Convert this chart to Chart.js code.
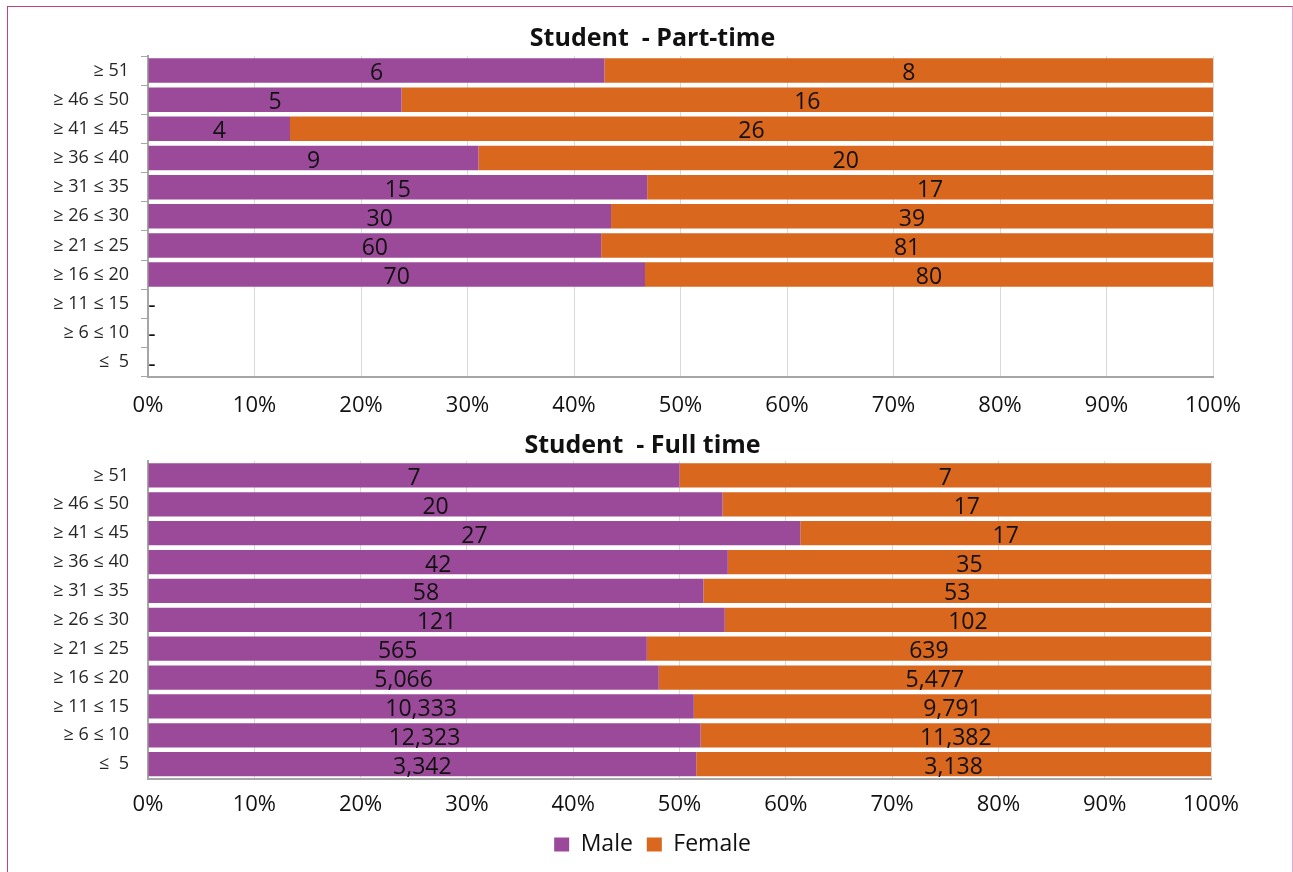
<!DOCTYPE html>
<html>
<head>
<meta charset="utf-8">
<script src="https://cdn.jsdelivr.net/npm/chart.js@4.4.0/dist/chart.umd.min.js"></script>
<style>
    body { margin: 0; background: #ffffff; font-family: "Open Sans", sans-serif; }
    #frame { position: absolute; left: 7px; top: 6px; width: 1284px; height: 880px;
             border-top: 1.5px solid #c2417f; border-left: 1.5px solid #c2417f; border-right: 1.5px solid #e3a6cc; }
    .box { position: absolute; left: 8px; width: 1283px; }
    #box1 { top: 15px; height: 430px; }
    #box2 { top: 425px; height: 444px; }
</style>
</head>
<body>
<div id="frame"></div>
<div class="box" id="box1"><canvas id="partTime"></canvas></div>
<div class="box" id="box2"><canvas id="fullTime"></canvas></div>
<script>
// Age bands, top to bottom
const ageBands = ['≥ 51', '≥ 46 ≤ 50', '≥ 41 ≤ 45', '≥ 36 ≤ 40', '≥ 31 ≤ 35', '≥ 26 ≤ 30',
                  '≥ 21 ≤ 25', '≥ 16 ≤ 20', '≥ 11 ≤ 15', '≥ 6 ≤ 10', '≤  5'];

// Student - Part-time counts
const partTimeMale   = [6, 5, 4, 9, 15, 30, 60, 70, 0, 0, 0];
const partTimeFemale = [8, 16, 26, 20, 17, 39, 81, 80, 0, 0, 0];

// Student - Full time counts
const fullTimeMale   = [7, 20, 27, 42, 58, 121, 565, 5066, 10333, 12323, 3342];
const fullTimeFemale = [7, 17, 17, 35, 53, 102, 639, 5477, 9791, 11382, 3138];

const xTicks = [0, 10, 20, 30, 40, 50, 60, 70, 80, 90, 100];

const MALE_COLOR = '#9b4a9a';
const FEMALE_COLOR = '#d9671e';
const FONT = '"Open Sans", sans-serif';

// share of row total (100% stacked)
function toPercent(part, other) {
    return part.map((v, i) => {
        const total = v + other[i];
        return total === 0 ? 0 : v / total * 100;
    });
}

// draws the raw counts inside each segment
const countLabels = {
    id: 'countLabels',
    afterDatasetsDraw(chart) {
        const ctx = chart.ctx;
        ctx.save();
        ctx.font = '23px ' + FONT;
        ctx.fillStyle = '#111111';
        ctx.textAlign = 'center';
        ctx.textBaseline = 'middle';
        chart.data.datasets.forEach((ds, di) => {
            const meta = chart.getDatasetMeta(di);
            meta.data.forEach((bar, i) => {
                const n = ds.counts[i];
                if (n === 0) {
                    if (di === 0) ctx.fillText('-', bar.base + 4, bar.y + 3);
                    return;
                }
                ctx.fillText(n.toLocaleString('en-US'), (bar.base + bar.x) / 2, bar.y + 3);
            });
        });
        ctx.restore();
    }
};

// title and legend sit a bit right of the canvas centre in the original
function shiftBoxes(titleDx, legendDx) {
    return {
        id: 'shiftBoxes',
        afterLayout(chart) {
            if (chart.titleBlock) {
                chart.titleBlock.left += titleDx;
                chart.titleBlock.right += titleDx;
            }
            if (chart.legend && legendDx) {
                chart.legend.left += legendDx;
                chart.legend.right += legendDx;
            }
        }
    };
}

function makeChart(id, title, male, female, opts) {
    const ctx = document.getElementById(id).getContext('2d');
    return new Chart(ctx, {
        type: 'bar',
        data: {
            labels: ageBands,
            datasets: [
                {
                    label: 'Male',
                    data: toPercent(male, female),
                    counts: male,
                    backgroundColor: MALE_COLOR,
                    barPercentage: 0.84,
                    categoryPercentage: 1
                },
                {
                    label: 'Female',
                    data: toPercent(female, male),
                    counts: female,
                    backgroundColor: FEMALE_COLOR,
                    barPercentage: 0.84,
                    categoryPercentage: 1
                }
            ]
        },
        options: {
            indexAxis: 'y',
            responsive: true,
            maintainAspectRatio: false,
            animation: false,
            layout: { padding: opts.padding },
            plugins: {
                title: {
                    display: true,
                    text: title,
                    color: '#111111',
                    font: { family: FONT, size: 25, weight: 'bold' },
                    padding: opts.titlePadding
                },
                legend: {
                    display: opts.legend,
                    position: 'bottom',
                    labels: {
                        color: '#111111',
                        font: { family: FONT, size: 23 },
                        boxWidth: 15,
                        boxHeight: 14,
                        padding: 2,
                        // a little extra room after each entry
                        generateLabels: c => Chart.defaults.plugins.legend.labels.generateLabels(c)
                            .map(l => Object.assign(l, { text: l.text + '  ' }))
                    }
                },
                tooltip: { enabled: false }
            },
            scales: {
                x: {
                    stacked: true,
                    min: 0,
                    max: 100,
                    afterBuildTicks: scale => { scale.ticks = xTicks.map(v => ({ value: v })); },
                    ticks: {
                        callback: v => v + '%',
                        color: '#111111',
                        font: { family: FONT, size: 22 },
                        padding: opts.xTickPad,
                        maxRotation: 0
                    },
                    grid: { color: '#d9d9d9', drawTicks: false },
                    border: { color: '#a6a6a6', width: 2 }
                },
                y: {
                    stacked: true,
                    afterFit: scale => { scale.width = 140; },
                    ticks: {
                        color: '#262626',
                        font: { family: FONT, size: 18 },
                        padding: opts.yTicks ? 12 : 19
                    },
                    grid: {
                        drawOnChartArea: false,
                        drawTicks: opts.yTicks,
                        tickLength: 7,
                        color: '#a6a6a6',
                        offset: true
                    },
                    border: { color: '#a6a6a6', width: 2 }
                }
            }
        },
        plugins: [countLabels, shiftBoxes(opts.titleDx, opts.legendDx)]
    });
}

makeChart('partTime', 'Student  - Part-time', partTimeMale, partTimeFemale, {
    padding: { top: 0, right: 78, bottom: 10, left: 0 },
    titlePadding: { top: 9, bottom: 2 },
    titleDx: 42,
    legendDx: 0,
    xTickPad: 16,
    yTicks: true,
    legend: false
});

makeChart('fullTime', 'Student  - Full time', fullTimeMale, fullTimeFemale, {
    padding: { top: 0, right: 80, bottom: 3, left: 0 },
    titlePadding: { top: 6, bottom: 0 },
    titleDx: 33,
    legendDx: 49,
    xTickPad: 13,
    yTicks: false,
    legend: true
});
</script>
</body>
</html>
